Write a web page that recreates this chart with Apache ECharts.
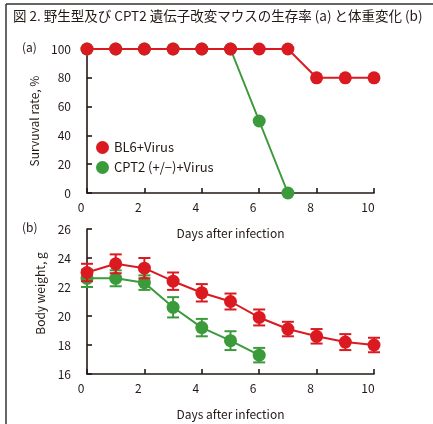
<!DOCTYPE html>
<html><head><meta charset="utf-8">
<script src="https://cdn.jsdelivr.net/npm/echarts@6/dist/echarts.min.js"></script>
<style>html,body{margin:0;padding:0;background:#fff}#c{width:433px;height:424px}</style>
</head><body><div id="c"></div>
<script>
const days = [0,1,2,3,4,5,6,7,8,9,10];
const xTicks = [0,2,4,6,8,10];
const survivalBL6 = [100,100,100,100,100,100,100,100,80,80,80];
const survivalCPT2 = [100,100,100,100,100,100,50,0];
const weightBL6 = [23.0,23.6,23.3,22.4,21.6,21.0,19.9,19.1,18.6,18.2,18.0];
const errBL6 = [0.6,0.65,0.7,0.6,0.6,0.55,0.55,0.5,0.5,0.55,0.5];
const weightCPT2 = [22.6,22.6,22.3,20.6,19.2,18.3,17.3];
const errCPT2 = [0.6,0.55,0.5,0.7,0.6,0.65,0.5];
const names = ['BL6+Virus','CPT2 (+/\u2212)+Virus'];

const RED = '#da1a20', GREEN = '#3b9a3a', INK = '#231815';
const FONT = '"Noto Sans CJK JP", "Noto Sans", sans-serif';

const chart = echarts.init(document.getElementById('c'));
function xAxis(idx){
  return {type:'value', gridIndex:idx, min:0, max:10, interval:2,
    name:'Days after infection', nameLocation:'middle', nameGap:34,
    nameTextStyle:{color:INK, fontSize:12, fontFamily:FONT},
    axisLine:{lineStyle:{color:INK, width:1.6}},
    axisTick:{inside:true, length:5, lineStyle:{color:INK, width:1.6}},
    axisLabel:{color:INK, fontSize:12, fontFamily:FONT, margin:8, padding:[0,12,0,0]},
    splitLine:{show:false}};
}
function yAxis(idx,min,max,interval,name,pad){
  return {type:'value', gridIndex:idx, min:min, max:max, interval:interval,
    name:name, nameLocation:'middle', nameGap:37,
    nameTextStyle:{color:INK, fontSize:12, fontFamily:FONT, padding:pad},
    axisLine:{show:true, lineStyle:{color:INK, width:1.6}},
    axisTick:{show:true, inside:true, length:5, lineStyle:{color:INK, width:1.6}},
    axisLabel:{color:INK, fontSize:12, fontFamily:FONT, margin:16},
    splitLine:{show:false}};
}
function errSeries(vals, errs, color, z){
  return {type:'custom', xAxisIndex:1, yAxisIndex:1, z:z, silent:true,
    data: vals.map((v,i)=>[days[i], v-errs[i], v+errs[i]]),
    renderItem:function(params, api){
      const lo = api.coord([api.value(0), api.value(1)]);
      const hi = api.coord([api.value(0), api.value(2)]);
      const w = 6;
      const st = {stroke:color, lineWidth:2};
      return {type:'group', children:[
        {type:'line', shape:{x1:lo[0],y1:lo[1],x2:hi[0],y2:hi[1]}, style:st},
        {type:'line', shape:{x1:lo[0]-w,y1:lo[1],x2:lo[0]+w,y2:lo[1]}, style:st},
        {type:'line', shape:{x1:hi[0]-w,y1:hi[1],x2:hi[0]+w,y2:hi[1]}, style:st}
      ]};
    }};
}
function lineSeries(name, vals, color, ax, z){
  return {name:name, type:'line', xAxisIndex:ax, yAxisIndex:ax, z:z,
    data: vals.map((v,i)=>[days[i], v]),
    symbol:'circle', symbolSize:13, showSymbol:true,
    itemStyle:{color:color}, lineStyle:{color:color, width:2}, animation:false};
}
chart.setOption({
  animation:false,
  textStyle:{fontFamily:FONT},
  grid:[{left:87, right:59, top:49, bottom:231},{left:87, right:59, top:229, bottom:50}],
  xAxis:[xAxis(0), xAxis(1)],
  yAxis:[yAxis(0,0,100,20,'Survuval rate, %',[0,0,0,0]), yAxis(1,16,26,2,'Body weight, g',[0,0,0,16])],
  legend:{data:names.map(n=>({name:n, icon:'circle'})), orient:'vertical', left:91, top:136,
    itemWidth:13, itemHeight:13, itemGap:7,
    lineStyle:{width:0, opacity:0},
    textStyle:{color:INK, fontSize:13, fontFamily:FONT}, selectedMode:false},
  graphic:[
    {type:'line', shape:{x1:6,y1:4,x2:433,y2:4}, style:{stroke:'#333', lineWidth:1.5}},
    {type:'line', shape:{x1:6,y1:4,x2:6,y2:424}, style:{stroke:'#333', lineWidth:1.5}},
    {type:'text', left:13, top:9, style:{text:'図 2. 野生型及び CPT2 遺伝子改変マウスの生存率 (a) と体重変化 (b)', fill:INK, font:'13.5px '+FONT}},
    {type:'text', left:22, top:41, style:{text:'(a)', fill:INK, font:'12px '+FONT}},
    {type:'text', left:22, top:221, style:{text:'(b)', fill:INK, font:'12px '+FONT}}
  ],
  series:[
    lineSeries(names[1], survivalCPT2, GREEN, 0, 3),
    lineSeries(names[0], survivalBL6, RED, 0, 5),
    errSeries(weightCPT2, errCPT2, GREEN, 2),
    lineSeries(names[1], weightCPT2, GREEN, 1, 3),
    errSeries(weightBL6, errBL6, RED, 4),
    lineSeries(names[0], weightBL6, RED, 1, 5)
  ]
});
</script></body></html>
